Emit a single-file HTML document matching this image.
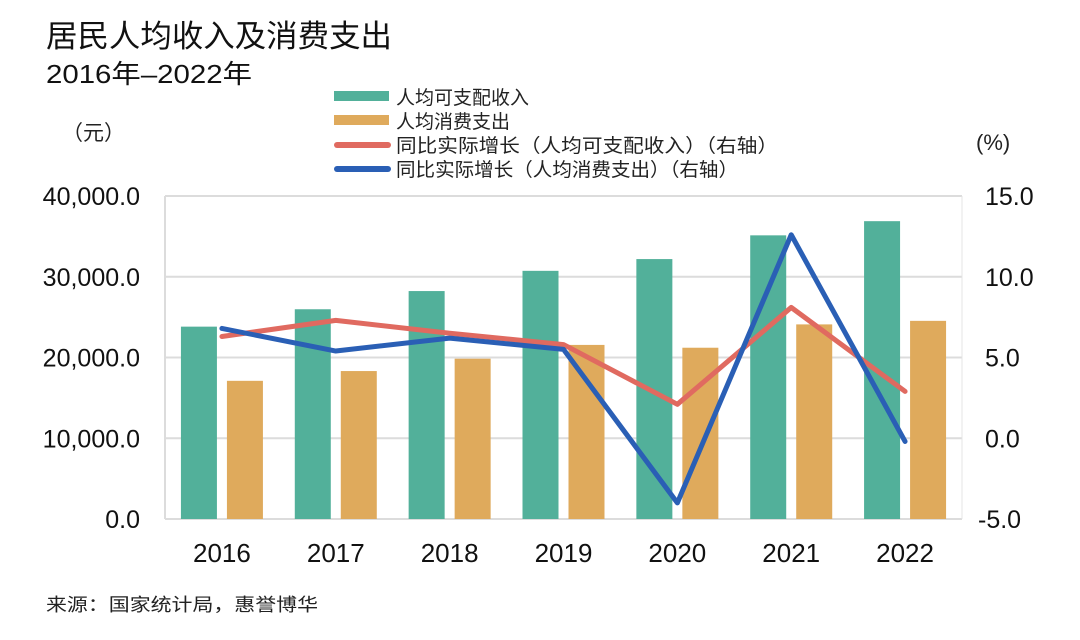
<!DOCTYPE html>
<html><head><meta charset="utf-8"><style>
body{margin:0;background:#fff;width:1080px;height:635px;overflow:hidden;font-family:"Liberation Sans","Noto Sans CJK SC",sans-serif;}
</style></head><body>
<svg width="1080" height="635" xmlns="http://www.w3.org/2000/svg" font-family="Liberation Sans, Noto Sans CJK SC, sans-serif">
<text x="46" y="47" font-size="31" fill="#111" textLength="346" lengthAdjust="spacingAndGlyphs">居民人均收入及消费支出</text>
<text x="46" y="83" font-size="26" fill="#111" textLength="206" lengthAdjust="spacingAndGlyphs">2016年–2022年</text>
<text x="62" y="140" font-size="21" fill="#222">（元）</text>
<text x="976" y="150" font-size="22" fill="#222">(%)</text>
<g>
<rect x="334" y="91" width="55" height="10" fill="#52b09a"/>
<text x="396" y="104" font-size="19" fill="#222">人均可支配收入</text>
<rect x="334" y="115" width="55" height="10" fill="#dfaa5c"/>
<text x="396" y="128" font-size="19" fill="#222">人均消费支出</text>
<line x1="337" y1="145" x2="388" y2="145" stroke="#e06a60" stroke-width="6" stroke-linecap="round"/>
<text x="396" y="152" font-size="19" fill="#222" textLength="382" lengthAdjust="spacingAndGlyphs">同比实际增长（人均可支配收入）（右轴）</text>
<line x1="337" y1="169" x2="388" y2="169" stroke="#2a5fb5" stroke-width="6" stroke-linecap="round"/>
<text x="396" y="176" font-size="19" fill="#222" textLength="342" lengthAdjust="spacingAndGlyphs">同比实际增长（人均消费支出）（右轴）</text>
</g>
<g id="plot"></g>
<text x="46" y="611" font-size="18" fill="#222" textLength="272" lengthAdjust="spacingAndGlyphs">来源：国家统计局，惠誉博华</text>
</svg>
<script>
const categories=["2016","2017","2018","2019","2020","2021","2022"];
const income=[23821,25974,28228,30733,32189,35128,36883];
const consumption=[17111,18322,19853,21559,21210,24100,24538];
const incomeGrowth=[6.3,7.3,6.5,5.8,2.1,8.1,2.9];
const consumptionGrowth=[6.8,5.4,6.2,5.5,-4.0,12.6,-0.2];
const leftTicks=[0,10000,20000,30000,40000];
const rightTicks=[-5,0,5,10,15];

const L=165,R=962,T=196,B=519;
const NS="http://www.w3.org/2000/svg";
const g=document.getElementById('plot');
const yL=v=>B-(v/40000)*(B-T);
const yR=v=>B-((v+5)/20)*(B-T);
const step=(R-L)/categories.length;
const xC=i=>L+step*(i+0.5);
function mk(t,a){const e=document.createElementNS(NS,t);for(const k in a)e.setAttribute(k,a[k]);g.appendChild(e);return e;}
leftTicks.forEach((v,i)=>{
  const l=mk('line',{x1:L,x2:R,y1:yL(v),y2:yL(v),stroke:'#dcdcdc','stroke-width':2});
  
  
  const t=mk('text',{x:140,y:yL(v)+9,'font-size':25,'text-anchor':'end',fill:'#111'});
  t.textContent=v.toLocaleString('en-US')+'.0';
  
  
});
rightTicks.forEach(v=>{
  const t=mk('text',{x:v<0?978:985,y:yR(v)+9,'font-size':25,fill:'#111'});
  t.textContent=v.toFixed(1);
  
  
});
const ax=mk('line',{x1:L,x2:L,y1:T,y2:B,stroke:'#dcdcdc','stroke-width':2});


const ax2=mk('line',{x1:R,x2:R,y1:T,y2:B,stroke:'#e4e4e4','stroke-width':1});


categories.forEach((c,i)=>{
  const b1=mk('rect',{x:xC(i)-41,y:yL(income[i]),width:36,height:B-yL(income[i]),fill:'#52b09a'});
  
  
  const b2=mk('rect',{x:xC(i)+5,y:yL(consumption[i]),width:36,height:B-yL(consumption[i]),fill:'#dfaa5c'});
  
  
  const t=mk('text',{x:xC(i),y:562,'font-size':26,'text-anchor':'middle',fill:'#111'});
  t.textContent=c;
  
  
});
const p1=mk('polyline',{points:incomeGrowth.map((v,i)=>xC(i)+','+yR(v)).join(' '),fill:'none',stroke:'#e06a60','stroke-width':5,'stroke-linejoin':'round','stroke-linecap':'round'});


const p2=mk('polyline',{points:consumptionGrowth.map((v,i)=>xC(i)+','+yR(v)).join(' '),fill:'none',stroke:'#2a5fb5','stroke-width':5,'stroke-linejoin':'round','stroke-linecap':'round'});


</script>
</body></html>
